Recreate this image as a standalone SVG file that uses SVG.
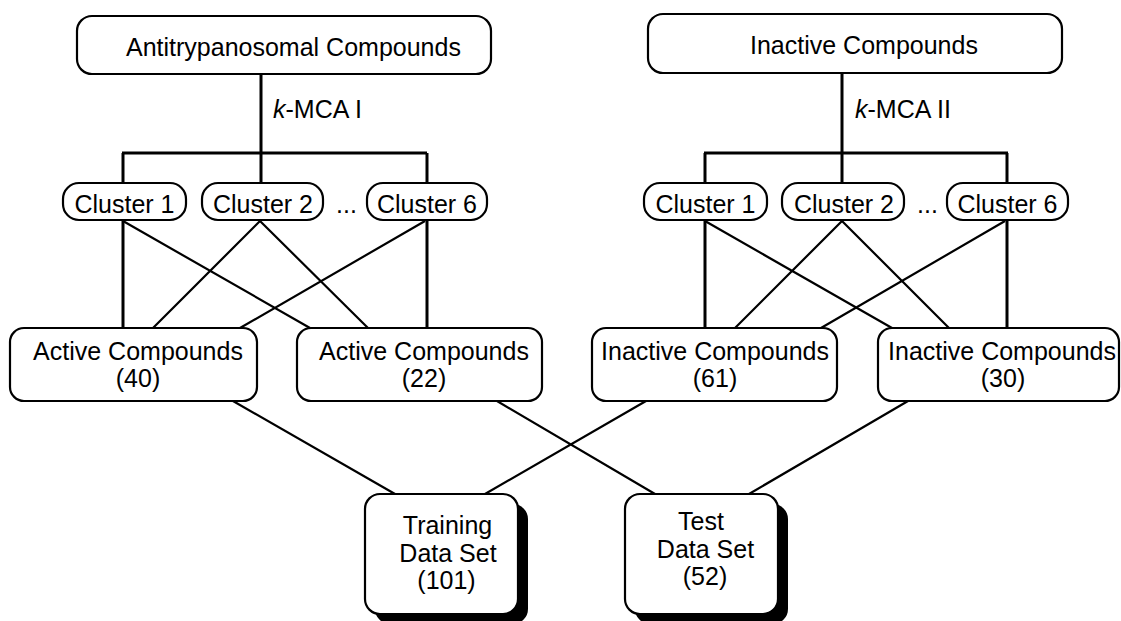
<svg xmlns="http://www.w3.org/2000/svg" width="1121" height="621" viewBox="0 0 1121 621">
  <style>
    .box { fill: #ffffff; stroke: #000000; stroke-width: 2.2; }
    .shadow { fill: #000000; stroke: none; }
    .tree { fill: none; stroke: #000000; stroke-width: 3; }
    .link { fill: none; stroke: #000000; stroke-width: 2.2; }
    text { font-family: "Liberation Sans", Arial, sans-serif; font-size: 25px; fill: #000000; }
    .c { text-anchor: middle; }
  </style>

  <!-- connectors -->
  <g id="connectors">
    <!-- k-MCA I tree -->
    <path class="tree" d="M261,74 V153 M122,153 H427 M123,153 V183 M261,153 V183 M427,153 V183"/>
    <!-- k-MCA II tree -->
    <path class="tree" d="M842,73 V153 M704,153 H1008 M705,153 V183 M842,153 V183 M1007,153 V183"/>
    <!-- clusters to active subsets -->
    <path class="tree" d="M123,220 V328 M427,220 V328"/>
    <path class="link" d="M123,221 L310,328 M260,221 L153,328 M260,221 L368,328 M425,221 L240,328"/>
    <!-- clusters to inactive subsets -->
    <path class="tree" d="M705,220 V328 M1007,220 V328"/>
    <path class="link" d="M705,221 L892,328 M842,221 L735,328 M842,221 L949,328 M1005,221 L821,328"/>
    <!-- subsets to data sets -->
    <path class="link" d="M233,401 L395,494 M646,401 L485,494 M497,401 L655,494 M908,401 L749,494"/>
  </g>

  <!-- source sets -->
  <g id="antitrypanosomal">
    <rect class="box" x="77" y="16" width="414" height="58" rx="15"/>
    <text x="126" y="56">Antitrypanosomal Compounds</text>
  </g>
  <g id="inactive">
    <rect class="box" x="648" y="14" width="414" height="59" rx="15"/>
    <text x="750" y="54">Inactive Compounds</text>
  </g>

  <!-- clustering labels -->
  <g id="kmca1"><text x="273" y="118"><tspan font-style="italic">k</tspan>-MCA I</text></g>
  <g id="kmca2"><text x="855" y="118"><tspan font-style="italic">k</tspan>-MCA II</text></g>

  <!-- clusters, first set -->
  <g id="a-cluster1">
    <rect class="box" x="63" y="183" width="123" height="37" rx="16"/>
    <text class="c" x="124.5" y="213">Cluster 1</text>
  </g>
  <g id="a-cluster2">
    <rect class="box" x="202" y="183" width="121" height="37" rx="16"/>
    <text class="c" x="263" y="213">Cluster 2</text>
  </g>
  <g id="a-ellipsis"><text x="336" y="213">...</text></g>
  <g id="a-cluster6">
    <rect class="box" x="367" y="183" width="120" height="37" rx="16"/>
    <text class="c" x="427" y="213">Cluster 6</text>
  </g>

  <!-- clusters, second set -->
  <g id="i-cluster1">
    <rect class="box" x="644" y="183" width="123" height="37" rx="16"/>
    <text class="c" x="705.5" y="213">Cluster 1</text>
  </g>
  <g id="i-cluster2">
    <rect class="box" x="782" y="183" width="122" height="37" rx="16"/>
    <text class="c" x="844" y="213">Cluster 2</text>
  </g>
  <g id="i-ellipsis"><text x="917" y="213">...</text></g>
  <g id="i-cluster6">
    <rect class="box" x="947" y="183" width="121" height="37" rx="16"/>
    <text class="c" x="1007.5" y="213">Cluster 6</text>
  </g>

  <!-- subsets -->
  <g id="active40">
    <rect class="box" x="10" y="328" width="247" height="73" rx="14"/>
    <text class="c" x="138" y="360">Active Compounds</text>
    <text class="c" x="138" y="387">(40)</text>
  </g>
  <g id="active22">
    <rect class="box" x="297" y="328" width="245" height="73" rx="14"/>
    <text class="c" x="424" y="360">Active Compounds</text>
    <text class="c" x="424" y="387">(22)</text>
  </g>
  <g id="inactive61">
    <rect class="box" x="592" y="328" width="245" height="73" rx="14"/>
    <text class="c" x="715" y="360">Inactive Compounds</text>
    <text class="c" x="715" y="387">(61)</text>
  </g>
  <g id="inactive30">
    <rect class="box" x="878" y="328" width="241" height="73" rx="14"/>
    <text class="c" x="1002" y="360">Inactive Compounds</text>
    <text class="c" x="1003" y="387">(30)</text>
  </g>

  <!-- data sets -->
  <g id="training">
    <rect class="shadow" x="375" y="504" width="153" height="120" rx="15"/>
    <rect class="box" x="365" y="494" width="153" height="120" rx="15"/>
    <text class="c" x="447.5" y="534">Training</text>
    <text class="c" x="448" y="562">Data Set</text>
    <text class="c" x="446.5" y="589">(101)</text>
  </g>
  <g id="test">
    <rect class="shadow" x="635" y="504" width="153" height="120" rx="15"/>
    <rect class="box" x="625" y="494" width="153" height="120" rx="15"/>
    <text class="c" x="701" y="530">Test</text>
    <text class="c" x="705.5" y="558">Data Set</text>
    <text class="c" x="705" y="585">(52)</text>
  </g>
</svg>
